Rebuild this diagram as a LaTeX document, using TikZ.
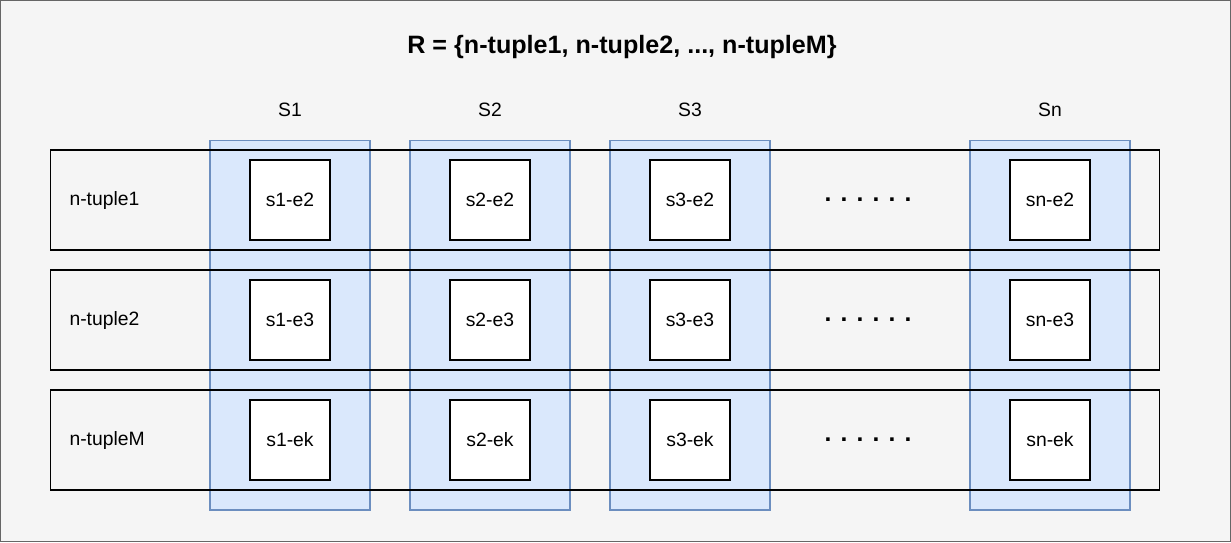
\documentclass[tikz,border=0pt]{standalone}
\usepackage{fontspec}
\setmainfont{Liberation Sans}
\usetikzlibrary{positioning}

\definecolor{bgcol}{HTML}{F5F5F5}
\definecolor{framecol}{HTML}{666666}
\definecolor{colfill}{HTML}{DAE8FC}
\definecolor{colline}{HTML}{6C8EBF}

\newcommand{\rowdots}{\textbf{.}\hspace{5.2pt}\textbf{.}\hspace{5.2pt}\textbf{.}\hspace{5.2pt}\textbf{.}\hspace{5.2pt}\textbf{.}\hspace{5.2pt}\textbf{.}}

\begin{document}
\begin{tikzpicture}[x=0.02cm, y=-0.02cm, line width=0.6pt,
    font=\fontsize{11}{13}\selectfont,
    tuplerow/.style={draw=black, minimum width=22.2cm, minimum height=2cm, inner sep=0pt},
    setcol/.style={draw=colline, fill=colfill, minimum width=3.2cm, minimum height=7.4cm, inner sep=0pt},
    elem/.style={draw=black, fill=white, minimum size=1.6cm, inner sep=0pt}]
    \useasboundingbox (0,0) rectangle (1231,542);
    \draw[framecol, fill=bgcol] (0.5,0.5) rectangle (1230.5,541.5);
    \node[font=\bfseries\fontsize{14.3}{16}\selectfont] (title) at (622,47) {R = \{n-tuple1, n-tuple2, ..., n-tupleM\}};
    % one column per set
    \foreach \name/\x/\lab in {s1/290/S1, s2/490/S2, s3/690/S3, sn/1050/Sn} {
      \node[setcol] (col-\name) at (\x,325) {};
      \node (head-\name) at (\x,110) {\lab};
    }
    % one row per tuple
    \foreach \r/\y/\lab in {1/200/n-tuple1, 2/320/n-tuple2, M/440/n-tupleM} {
      \node[tuplerow] (row\r) at (605,\y) {};
      \node[anchor=west, inner sep=0pt] (rowlab\r) at (69,\y) {\lab};
      \node (dots\r) at (868,\y) {\fontsize{14}{14}\selectfont\rowdots};
    }
    \foreach \name/\x in {s1/290, s2/490, s3/690, sn/1050}
      \foreach \e/\y in {e2/200, e3/320, ek/440}
        \node[elem] (\name-\e) at (\x,\y) {\name-\e};
  \end{tikzpicture}
\end{document}
